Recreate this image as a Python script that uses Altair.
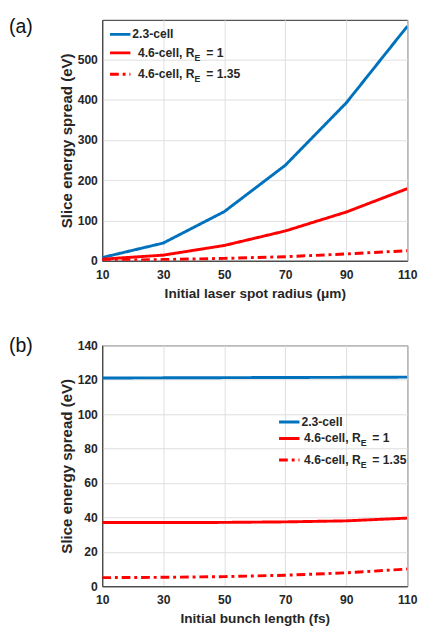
import altair as alt
import pandas as pd

x_vals = [10, 30, 50, 70, 90, 110]
series_names = ["2.3-cell", "4.6-cell, RE = 1", "4.6-cell, RE = 1.35"]
a_23 = [8, 44, 122, 237, 392, 582]
a_46 = [4, 14, 38, 74, 121, 179]
a_46b = [1, 3, 6, 10, 17, 25]
b_23 = [121.0, 121.1, 121.2, 121.3, 121.4, 121.5]
b_46 = [37.0, 37.0, 37.1, 37.4, 38.0, 39.6]
b_46b = [5.0, 5.2, 5.6, 6.4, 7.8, 10.0]
x_ticks = [10, 30, 50, 70, 90, 110]
a_yticks = [0, 100, 200, 300, 400, 500]
b_yticks = [0, 20, 40, 60, 80, 100, 120, 140]
colors = ["#0072BD", "#FF0000", "#FF0000"]
dashes = [[1, 0], [1, 0], [9, 4, 3, 4]]
FONT = "Liberation Sans"
DARK = "#262626"


def long_df(cols):
    rows = []
    for name, ys in zip(series_names, cols):
        for x, y in zip(x_vals, ys):
            rows.append({"x": x, "y": y, "series": name})
    return pd.DataFrame(rows)


one = pd.DataFrame({"k": [0]})


def legend_layers(lx, rows_y, sub_end):
    layers = []
    labels = [("2.3-cell", None, None), ("4.6-cell, R", "E", "= 1"), ("4.6-cell, R", "E", "= 1.35")]
    for i, (ry, lab) in enumerate(zip(rows_y, labels)):
        layers.append(
            alt.Chart(one).mark_rule(color=colors[i], strokeWidth=3, strokeDash=dashes[i]).encode(
                x=alt.value(lx), x2=alt.value(lx + 21), y=alt.value(ry)
            )
        )
        main, sub, rest = lab
        if sub is None:
            layers.append(
                alt.Chart(one).mark_text(text=main, align="left", baseline="middle", font=FONT,
                                         fontWeight="bold", fontSize=12.5, color=DARK).encode(
                    x=alt.value(lx + 23), y=alt.value(ry)
                )
            )
        else:
            layers.append(
                alt.Chart(one).mark_text(text=main, align="right", baseline="middle", font=FONT,
                                         fontWeight="bold", fontSize=12.5, color=DARK).encode(
                    x=alt.value(sub_end), y=alt.value(ry)
                )
            )
            layers.append(
                alt.Chart(one).mark_text(text=sub, align="left", baseline="middle", font=FONT,
                                         fontWeight="bold", fontSize=9, color=DARK).encode(
                    x=alt.value(sub_end), y=alt.value(ry + 5)
                )
            )
            layers.append(
                alt.Chart(one).mark_text(text=rest, align="left", baseline="middle", font=FONT,
                                         fontWeight="bold", fontSize=12.5, color=DARK).encode(
                    x=alt.value(sub_end + 12), y=alt.value(ry)
                )
            )
    return layers


def panel(df, xtitle, yticks, ydom, tag, tag_y, lx, rows_y, sub_end):
    lines = alt.Chart(df).mark_line(strokeWidth=3, clip=True).encode(
        x=alt.X("x:Q", scale=alt.Scale(domain=[10, 110], nice=False, zero=False),
                axis=alt.Axis(values=x_ticks, title=xtitle)),
        y=alt.Y("y:Q", scale=alt.Scale(domain=ydom, nice=False),
                axis=alt.Axis(values=yticks, title="Slice energy spread (eV)")),
        color=alt.Color("series:N", scale=alt.Scale(domain=series_names, range=colors), legend=None),
        strokeDash=alt.StrokeDash("series:N", scale=alt.Scale(domain=series_names, range=dashes), legend=None),
    )
    tag_mark = alt.Chart(one).mark_text(text=tag, align="left", baseline="middle", font=FONT,
                                        fontSize=20, color="#111111").encode(
        x=alt.value(-96), y=alt.value(tag_y)
    )
    return alt.layer(lines, tag_mark, *legend_layers(lx, rows_y, sub_end)).properties(width=314, height=248)


pa = panel(long_df([a_23, a_46, a_46b]), "Initial laser spot radius (μm)", a_yticks, [0, 598],
           "(a)", 7.5, 8, [15, 34, 56], 95)
pb = panel(long_df([b_23, b_46, b_46b]), "Initial bunch length (fs)", b_yticks, [0, 140],
           "(b)", 1, 182, [79, 96, 118], 266)

chart = alt.vconcat(pa, pb, spacing=36).properties(padding=0).configure_view(
    stroke=DARK, strokeWidth=1
).configure_axis(
    labelFont=FONT, labelFontWeight="bold", labelFontSize=12.5, labelColor=DARK,
    titleFont=FONT, titleFontWeight="bold", titleColor=DARK,
    gridColor="#dedede", gridWidth=1, domainColor=DARK, ticks=False
).configure_axisX(
    labelFlush=False, labelPadding=8, titlePadding=6, titleFontSize=14
).configure_axisY(
    labelPadding=5, titlePadding=3, titleFontSize=15.5
)

chart.save("out.html", embed_options={"renderer": "svg", "actions": False})
